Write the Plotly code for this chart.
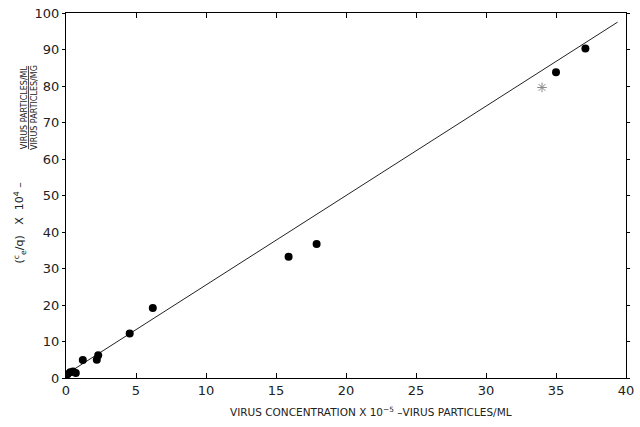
import plotly.graph_objects as go

# Measured data points
conc = [0.1, 0.3, 0.5, 0.7, 1.2, 2.2, 2.3, 4.55, 6.2, 15.9, 17.9, 35.0, 37.1]
ratio = [1.0, 1.6, 1.8, 1.4, 4.9, 5.0, 6.2, 12.2, 19.2, 33.2, 36.7, 83.8, 90.3]

# Doubtful (smudged) point
odd_conc = [34.0]
odd_ratio = [79.6]

# Fitted line end points
line_x = [0.0, 39.4]
line_y = [1.0, 97.5]

x_ticks = [0, 5, 10, 15, 20, 25, 30, 35, 40]
y_ticks = [0, 10, 20, 30, 40, 50, 60, 70, 80, 90, 100]

FONT = "DejaVu Sans"

fig = go.Figure()
fig.add_trace(go.Scatter(x=line_x, y=line_y, mode="lines",
                         line=dict(color="#222", width=1), hoverinfo="skip"))
fig.add_trace(go.Scatter(x=conc, y=ratio, mode="markers",
                         marker=dict(color="black", size=8)))
fig.add_trace(go.Scatter(x=odd_conc, y=odd_ratio, mode="markers",
                         marker=dict(color="#888", size=8, symbol="asterisk-open",
                                     line=dict(color="#888", width=1))))

axis_common = dict(showgrid=False, zeroline=False, showline=True, linecolor="black",
                   linewidth=1.2, mirror="ticks", tickcolor="black",
                   tickfont=dict(family=FONT, size=13, color="#222"))

fig.update_xaxes(range=[0, 40], tickvals=x_ticks, ticks="inside", ticklen=5, **axis_common)
fig.update_yaxes(range=[0, 100], tickvals=y_ticks, ticks="outside", ticklen=3, **axis_common)

W = 568.0
H = 367.0
def px(x):
    return (x - 66) / W
def py(y):
    return (378 - y) / H

fig.add_annotation(xref="paper", yref="paper", x=px(375), y=py(412),
                   xanchor="center", yanchor="middle",
                   text="VIRUS CONCENTRATION X 10<sup>−5</sup> –VIRUS PARTICLES/ML",
                   showarrow=False, font=dict(family=FONT, size=10.5, color="#222"))
fig.add_annotation(xref="paper", yref="paper", x=px(19), y=py(222),
                   xanchor="center", yanchor="middle",
                   text="(<sup>c</sup><sub>e</sub>/q)   X  10<sup>4</sup> –",
                   textangle=-90, showarrow=False,
                   font=dict(family=FONT, size=11, color="#222"))
fig.add_annotation(xref="paper", yref="paper", x=px(29), y=py(106),
                   xanchor="center", yanchor="middle",
                   text="<u>VIRUS PARTICLES/ML</u><br>VIRUS PARTICLES/MG",
                   textangle=-90, showarrow=False,
                   font=dict(family=FONT, size=8, color="#222"))

fig.update_layout(width=640, height=427, showlegend=False,
                  plot_bgcolor="white", paper_bgcolor="white",
                  margin=dict(l=66, r=6, t=11, b=49))

fig.write_html("out.html")
